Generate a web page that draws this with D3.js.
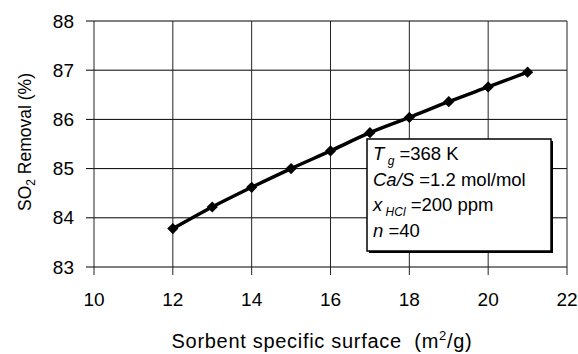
<!DOCTYPE html>
<html>
<head>
<meta charset="utf-8">
<script src="https://cdn.jsdelivr.net/npm/d3@7"></script>
<style>
  body { margin: 0; background: #fff; }
  text { font-family: "Liberation Sans", Arial, sans-serif; fill: #000; }
</style>
</head>
<body>
<div id="chart"></div>
<script>
// data
const surface = [12, 13, 14, 15, 16, 17, 18, 19, 20, 21];
const removal = [83.78, 84.22, 84.62, 85.0, 85.36, 85.73, 86.04, 86.36, 86.66, 86.96];
const xTicks = [10, 12, 14, 16, 18, 20, 22];
const yTicks = [83, 84, 85, 86, 87, 88];

const width = 578, height = 354;
const margin = { top: 21, right: 11, bottom: 87, left: 94 };

const svg = d3.select('#chart').append('svg')
    .attr('width', width)
    .attr('height', height);

const x = d3.scaleLinear().domain([10, 22]).range([margin.left, width - margin.right]);
const y = d3.scaleLinear().domain([83, 88]).range([height - margin.bottom, margin.top]);

// grid
svg.append('g').selectAll('line').data(yTicks).enter().append('line')
    .attr('x1', x(10) - 8).attr('x2', x(22))
    .attr('y1', d => y(d)).attr('y2', d => y(d))
    .attr('stroke', '#000').attr('stroke-width', 1);
svg.append('g').selectAll('line').data(xTicks).enter().append('line')
    .attr('x1', d => x(d)).attr('x2', d => x(d))
    .attr('y1', y(88)).attr('y2', y(83) + 8)
    .attr('stroke', '#222').attr('stroke-width', 1);

// tick labels
svg.append('g').selectAll('text').data(yTicks).enter().append('text')
    .attr('x', x(10) - 20).attr('y', d => y(d))
    .attr('dy', '0.35em').attr('text-anchor', 'end')
    .style('font-size', '19px').text(d => d);
svg.append('g').selectAll('text').data(xTicks).enter().append('text')
    .attr('x', d => x(d)).attr('y', y(83) + 32)
    .attr('dy', '0.35em').attr('text-anchor', 'middle')
    .style('font-size', '19px').text(d => d);

// axis titles
const xt = svg.append('text')
    .attr('x', 322).attr('y', 348)
    .attr('text-anchor', 'middle').style('font-size', '20px')
    .style('letter-spacing', '0.7px');
xt.append('tspan').text('Sorbent specific surface\u00a0 (m');
xt.append('tspan').attr('dy', -8).style('font-size', '13px').text('2');
xt.append('tspan').attr('dy', 8).text('/g)');

const yt = svg.append('text')
    .attr('transform', `translate(31, 142) rotate(-90)`)
    .attr('text-anchor', 'middle').style('font-size', '17.5px');
yt.append('tspan').text('SO');
yt.append('tspan').attr('dy', 4).style('font-size', '12px').text('2');
yt.append('tspan').attr('dy', -4).text('\u00a0Removal (%)');

// line
const pts = surface.map((s, i) => [s, removal[i]]);
svg.append('path')
    .datum(pts)
    .attr('fill', 'none').attr('stroke', '#000').attr('stroke-width', 3.5)
    .attr('d', d3.line().x(d => x(d[0])).y(d => y(d[1])).curve(d3.curveCatmullRom));

svg.append('g').selectAll('path').data(pts).enter().append('path')
    .attr('transform', d => `translate(${x(d[0])},${y(d[1])})`)
    .attr('d', d3.symbol().type(d3.symbolDiamond2).size(80))
    .attr('fill', '#000');

// annotation box
const bx = 367, by = 139, bw = 184, bh = 112;
svg.append('rect').attr('x', bx + 2).attr('y', by + 2).attr('width', bw).attr('height', bh).attr('fill', '#000');
svg.append('rect').attr('x', bx).attr('y', by).attr('width', bw).attr('height', bh)
    .attr('fill', '#fff').attr('stroke', '#000').attr('stroke-width', 1.5);

const lines = [
  [['T', 'i'], ['\u00a0g', 'sub'], ['\u00a0=368 K', 'n']],
  [['Ca/S', 'i'], ['\u00a0=1.2 mol/mol', 'n']],
  [['x', 'i'], ['\u00a0HCl', 'sub'], ['\u00a0=200 ppm', 'n']],
  [['n', 'i'], ['\u00a0=40', 'n']]
];
lines.forEach((parts, i) => {
  const t = svg.append('text').attr('x', bx + 6).attr('y', by + 21 + i * 25.7)
      .style('font-size', '18.5px');
  let shift = 0;
  parts.forEach(([s, k]) => {
    const sp = t.append('tspan').text(s);
    if (k === 'i') sp.style('font-style', 'italic');
    if (k === 'sub') {
      sp.style('font-style', 'italic').style('font-size', '12px').attr('dy', 5 - shift);
      shift = 5;
    } else if (shift) {
      sp.attr('dy', -shift);
      shift = 0;
    }
  });
});
</script>
</body>
</html>
